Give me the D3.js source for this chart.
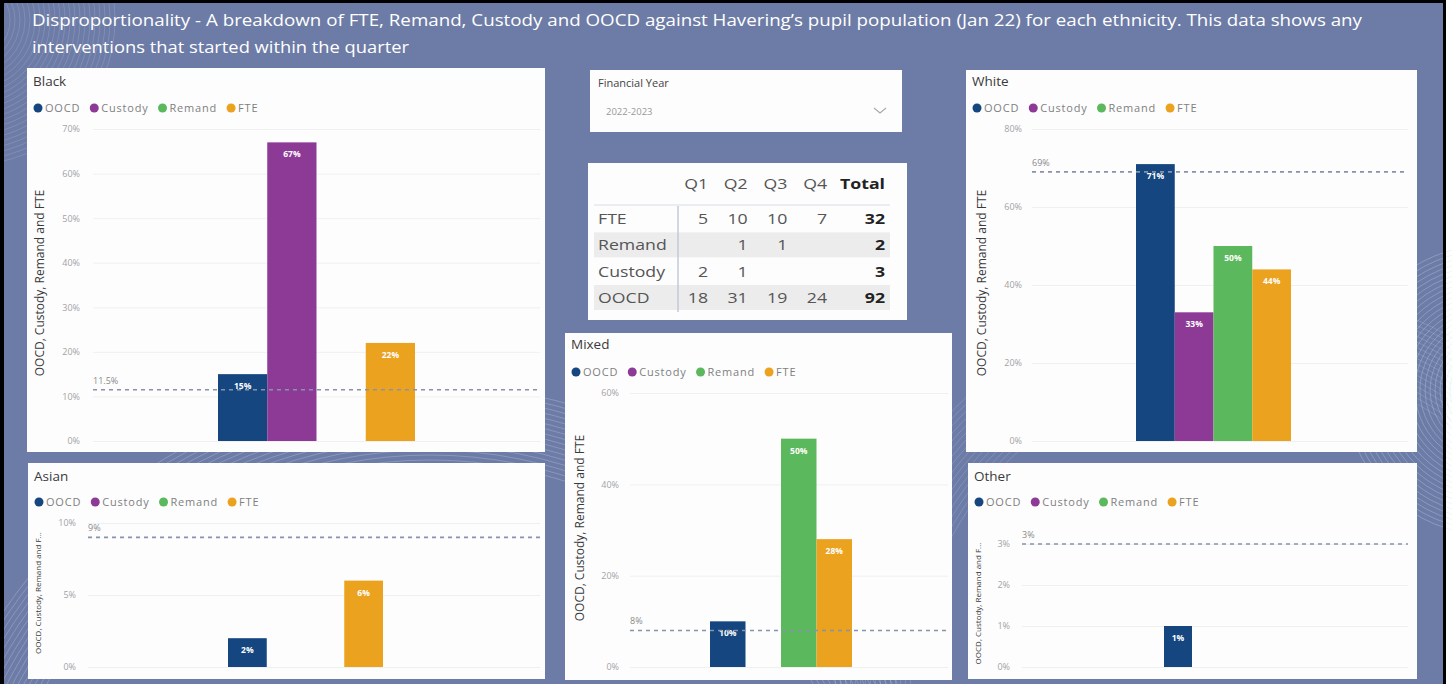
<!DOCTYPE html>
<html>
<meta charset="utf-8">
<head>
  <title>Disproportionality</title>
</head>
<style>
body { margin: 0; background: #fff; }
text { font-family: "Open Sans", "Noto Sans", sans-serif; }
</style>
<body>
<div id="chart"></div>
<script src="https://d3js.org/d3.v7.min.js"></script>
<script>

// series, in legend order
var measures = ["OOCD", "Custody", "Remand", "FTE"];
var measureColors = ["#15467f", "#8c3a96", "#5cb85c", "#eaa21f"];

// % of each intervention type by ethnicity
var blackValues = [15, 67, null, 22];
var whiteValues = [71, 33, 50, 44];
var mixedValues = [10, null, 50, 28];
var asianValues = [2, null, null, 6];
var otherValues = [1, null, null, null];

// pupil population share (Jan 22) - the dashed lines
var blackPopulation = 11.5;
var whitePopulation = 69;
var mixedPopulation = 8;
var asianPopulation = 9;
var otherPopulation = 3;

var blackTicks = [0, 10, 20, 30, 40, 50, 60, 70];
var whiteTicks = [0, 20, 40, 60, 80];
var mixedTicks = [0, 20, 40, 60];
var asianTicks = [0, 5, 10];
var otherTicks = [0, 1, 2, 3];

// quarterly counts table
var quarters = ["Q1", "Q2", "Q3", "Q4", "Total"];
var tableRows = ["FTE", "Remand", "Custody", "OOCD"];
var fteCounts = [5, 10, 10, 7, 32];
var remandCounts = [null, 1, 1, null, 2];
var custodyCounts = [2, 1, null, null, 3];
var oocdCounts = [18, 31, 19, 24, 92];

var financialYear = "2022-2023";
var titleLine1 = "Disproportionality - A breakdown of FTE, Remand, Custody and OOCD against Havering\u2019s pupil population (Jan 22) for each ethnicity. This data shows any";
var titleLine2 = "interventions that started within the quarter";

var W = 1452, H = 684;
var bg = "#6d7ca6";

var svg = d3.select("#chart").append("svg")
  .attr("width", W).attr("height", H);

svg.append("rect").attr("width", W).attr("height", H).attr("fill", "#fff");
svg.append("rect").attr("x", 0).attr("y", 0).attr("width", 1445).attr("height", H).attr("fill", bg);

// background swirls
var deco = svg.append("g").attr("fill", "none");
d3.range(40, 150, 5).forEach(function(r) {
  deco.append("circle").attr("cx", 1490).attr("cy", 390).attr("r", r)
    .attr("stroke", "#bfe3ee").attr("stroke-opacity", 0.3);
  deco.append("circle").attr("cx", -30).attr("cy", 20).attr("r", r)
    .attr("stroke", "#c9d3ea").attr("stroke-opacity", 0.2);
});
d3.range(440, 520, 5).forEach(function(r) {
  deco.append("circle").attr("cx", 430).attr("cy", 900).attr("r", r)
    .attr("stroke", "#c9d3ea").attr("stroke-opacity", 0.3);
  deco.append("circle").attr("cx", 1250).attr("cy", 700).attr("r", r - 100)
    .attr("stroke", "#bfe3ee").attr("stroke-opacity", 0.2);
});

// frame
svg.append("rect").attr("x", 0).attr("y", 0).attr("width", 4).attr("height", H).attr("fill", "#000");
svg.append("rect").attr("x", 0).attr("y", 0).attr("width", 1446).attr("height", 3).attr("fill", "#000");
svg.append("rect").attr("x", 1443).attr("y", 0).attr("width", 3).attr("height", H).attr("fill", "#000");

// title
var title = svg.append("g").attr("fill", "#fff").attr("font-size", 17);
title.append("text").attr("x", 32).attr("y", 26).text(titleLine1)
  .attr("textLength", 1330).attr("lengthAdjust", "spacingAndGlyphs");
title.append("text").attr("x", 32).attr("y", 53).text(titleLine2)
  .attr("textLength", 377).attr("lengthAdjust", "spacingAndGlyphs");

var panels = [
  {name: "Black", values: blackValues, pop: blackPopulation, popLabel: "11.5%", ticks: blackTicks,
   box: [27, 68, 545, 452], top: 129, bottom: 441, left: 93, right: 540, group: [218, 415],
   tickX: 80, axisX: 40, axisFont: 12, axisTitle: "OOCD, Custody, Remand and FTE", titleY: 81, legendY: 108},
  {name: "White", values: whiteValues, pop: whitePopulation, popLabel: "69%", ticks: whiteTicks,
   box: [966, 70, 1417, 452], top: 129, bottom: 441, left: 1032, right: 1408, group: [1136, 1291],
   tickX: 1022, axisX: 982, axisFont: 12, axisTitle: "OOCD, Custody, Remand and FTE", titleY: 81, legendY: 108},
  {name: "Mixed", values: mixedValues, pop: mixedPopulation, popLabel: "8%", ticks: mixedTicks,
   box: [565, 333, 952, 680], top: 393, bottom: 667, left: 630, right: 948, group: [710, 852],
   tickX: 619, axisX: 580, axisFont: 12, axisTitle: "OOCD, Custody, Remand and FTE", titleY: 344, legendY: 372},
  {name: "Asian", values: asianValues, pop: asianPopulation, popLabel: "9%", ticks: asianTicks,
   box: [28, 463, 545, 679], top: 523, bottom: 667, left: 88, right: 540, group: [228, 383],
   tickX: 76, axisX: 38, axisFont: 8, axisTitle: "OOCD, Custody, Remand and F...", titleY: 476, legendY: 502},
  {name: "Other", values: otherValues, pop: otherPopulation, popLabel: "3%", ticks: otherTicks,
   box: [968, 463, 1417, 679], top: 544, bottom: 667, left: 1022, right: 1408, group: [1164, 1276],
   tickX: 1010, axisX: 978, axisFont: 8, axisTitle: "OOCD, Custody, Remand and F...", titleY: 476, legendY: 502}
];

panels.forEach(drawPanel);

function drawPanel(p) {
  var g = svg.append("g");
  g.append("rect")
    .attr("x", p.box[0]).attr("y", p.box[1])
    .attr("width", p.box[2] - p.box[0]).attr("height", p.box[3] - p.box[1])
    .attr("fill", "#fdfdfe");

  g.append("text").attr("x", p.box[0] + 6).attr("y", p.titleY + 5)
    .attr("font-size", 13.5).attr("fill", "#3a3a3a").text(p.name);

  // legend
  var lx = p.box[0] + 11;
  measures.forEach(function(m, i) {
    g.append("circle").attr("cx", lx).attr("cy", p.legendY).attr("r", 4.5).attr("fill", measureColors[i]);
    var t = g.append("text").attr("x", lx + 7).attr("y", p.legendY + 4)
      .attr("font-size", 11).attr("letter-spacing", 0.8).attr("fill", "#808080").text(m);
    lx += 7 + t.node().getComputedTextLength() + 14;
  });

  var y = d3.scaleLinear().domain([0, d3.max(p.ticks)]).range([p.bottom, p.top]);
  var x = d3.scaleBand().domain(measures).range(p.group);

  // gridlines
  var grid = g.append("g").attr("transform", "translate(" + p.left + ",0)")
    .call(d3.axisLeft(y).tickValues(p.ticks).tickSize(-(p.right - p.left)).tickFormat(""));
  grid.select(".domain").remove();
  grid.selectAll("line").attr("stroke", "#f0f0f2");

  // tick labels
  var ax = g.append("g").attr("transform", "translate(" + p.tickX + ",0)")
    .call(d3.axisLeft(y).tickValues(p.ticks).tickSize(0).tickPadding(0)
      .tickFormat(function(d) { return d + "%"; }));
  ax.select(".domain").remove();
  ax.selectAll("text").attr("font-size", 9).attr("fill", "#a3a3a3")
    .attr("font-family", "\"Open Sans\", sans-serif");

  g.append("text")
    .attr("transform", "translate(" + p.axisX + "," + ((p.top + p.bottom) / 2 - 2) + ") rotate(-90)")
    .attr("text-anchor", "middle").attr("dy", "0.35em")
    .attr("font-size", p.axisFont).attr("fill", "#3a3a3a").text(p.axisTitle);

  // bars
  var bars = measures.map(function(m, i) { return {m: m, v: p.values[i], c: measureColors[i]}; })
    .filter(function(d) { return d.v != null; });

  g.selectAll(".bar").data(bars).enter().append("rect")
    .attr("x", function(d) { return x(d.m); })
    .attr("y", function(d) { return y(d.v); })
    .attr("width", x.bandwidth())
    .attr("height", function(d) { return y(0) - y(d.v); })
    .attr("fill", function(d) { return d.c; });

  g.selectAll(".lbl").data(bars).enter().append("text")
    .attr("x", function(d) { return x(d.m) + x.bandwidth() / 2; })
    .attr("y", function(d) { return y(d.v) + 15; })
    .attr("text-anchor", "middle").attr("font-size", 8.5).attr("font-weight", "bold")
    .attr("fill", "#fff").text(function(d) { return d.v + "%"; });

  // population reference line
  g.append("line")
    .attr("x1", p.left).attr("x2", p.right)
    .attr("y1", y(p.pop)).attr("y2", y(p.pop))
    .attr("stroke", "#8593ab").attr("stroke-width", 1.6).attr("stroke-dasharray", "4,4");
  g.append("text").attr("x", p.left).attr("y", y(p.pop) - 6)
    .attr("font-size", 9).attr("fill", "#8a8a8a").text(p.popLabel);
}

// financial year slicer
var f = svg.append("g");
f.append("rect").attr("x", 590).attr("y", 70).attr("width", 312).attr("height", 62).attr("fill", "#fdfdfe");
f.append("text").attr("x", 598).attr("y", 87).attr("font-size", 11).attr("fill", "#444").text("Financial Year");
f.append("text").attr("x", 606).attr("y", 115).attr("font-size", 9.5).attr("fill", "#999").text(financialYear);
f.append("path").attr("d", "M874,108 L880,113 L886,108").attr("fill", "none")
  .attr("stroke", "#aaa").attr("stroke-width", 1.2);

// quarterly table
var tb = svg.append("g");
tb.append("rect").attr("x", 588).attr("y", 163).attr("width", 319).attr("height", 157).attr("fill", "#fdfdfe");
var colRight = d3.scalePoint().domain(quarters.slice(0, 4)).range([708, 827]);
var colX = function(q) { return q === "Total" ? 885 : colRight(q); };
var rowY = d3.scalePoint().domain(tableRows).range([224, 303]);
var rowData = [fteCounts, remandCounts, custodyCounts, oocdCounts];

[1, 3].forEach(function(i) {
  tb.append("rect").attr("x", 594).attr("y", rowY(tableRows[i]) - 18)
    .attr("width", 296).attr("height", 25).attr("fill", "#ececec");
});
tb.append("line").attr("x1", 594).attr("x2", 890).attr("y1", 205).attr("y2", 205)
  .attr("stroke", "#d8dde6");
tb.append("line").attr("x1", 678).attr("x2", 678).attr("y1", 206).attr("y2", 312)
  .attr("stroke", "#c2cad6").attr("stroke-width", 1.5);

// text in the table looks horizontally stretched in the screenshot
function cell(tx, ty, str, anchor, bold) {
  tb.append("text")
    .attr("transform", "translate(" + tx + "," + ty + ") scale(1.18,1)")
    .attr("text-anchor", anchor).attr("font-size", 15)
    .attr("fill", bold ? "#222" : "#555")
    .attr("font-weight", bold ? "bold" : "normal").text(str);
}

quarters.forEach(function(q) {
  cell(colX(q), 189, q, "end", q === "Total");
});
tableRows.forEach(function(r, i) {
  cell(598, rowY(r), r, "start", false);
  quarters.forEach(function(q, j) {
    var v = rowData[i][j];
    if (v == null) return;
    cell(colX(q), rowY(r), v, "end", q === "Total");
  });
});

</script>
</body>
</html>
